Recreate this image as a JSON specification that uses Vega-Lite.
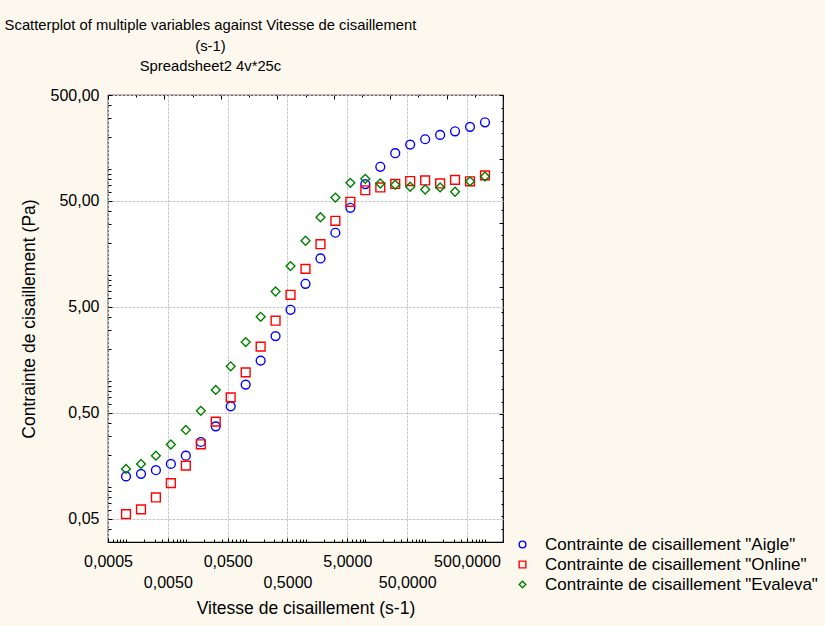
{
  "$schema": "https://vega.github.io/schema/vega-lite/v6.json",
  "width": 395,
  "height": 447,
  "autosize": "none",
  "padding": {"left": 108, "top": 95, "right": 322, "bottom": 84},
  "background": "#fcf8ee",
  "config": {
    "font": "Liberation Sans",
    "view": {"fill": "white", "stroke": "black", "strokeWidth": 1.2}
  },
  "title": {
    "text": ["Scatterplot of multiple variables against Vitesse de cisaillement", "(s-1)"],
    "subtitle": "Spreadsheet2 4v*25c",
    "anchor": "middle",
    "dx": -95,
    "fontSize": 14.8,
    "fontWeight": "normal",
    "color": "black",
    "lineHeight": 21,
    "subtitleFontSize": 14.8,
    "subtitleColor": "black",
    "subtitlePadding": 5,
    "offset": 13
  },
  "data": {
    "values": [
      {"v": 0.001, "Aigle": 0.125, "Online": 0.055, "Evaleva": 0.147},
      {"v": 0.00178, "Aigle": 0.132, "Online": 0.061, "Evaleva": 0.164},
      {"v": 0.00316, "Aigle": 0.143, "Online": 0.079, "Evaleva": 0.196},
      {"v": 0.00562, "Aigle": 0.164, "Online": 0.108, "Evaleva": 0.25},
      {"v": 0.01, "Aigle": 0.196, "Online": 0.158, "Evaleva": 0.343},
      {"v": 0.0178, "Aigle": 0.264, "Online": 0.251, "Evaleva": 0.52},
      {"v": 0.0316, "Aigle": 0.371, "Online": 0.411, "Evaleva": 0.82},
      {"v": 0.0562, "Aigle": 0.573, "Online": 0.697, "Evaleva": 1.37},
      {"v": 0.1, "Aigle": 0.92, "Online": 1.2, "Evaleva": 2.32},
      {"v": 0.178, "Aigle": 1.55, "Online": 2.1, "Evaleva": 4.02},
      {"v": 0.316, "Aigle": 2.64, "Online": 3.69, "Evaleva": 6.97},
      {"v": 0.562, "Aigle": 4.68, "Online": 6.49, "Evaleva": 12.1},
      {"v": 1, "Aigle": 8.24, "Online": 11.4, "Evaleva": 21},
      {"v": 1.78, "Aigle": 14.3, "Online": 19.5, "Evaleva": 35},
      {"v": 3.16, "Aigle": 25, "Online": 32.4, "Evaleva": 53.7},
      {"v": 5.62, "Aigle": 43, "Online": 49, "Evaleva": 74},
      {"v": 10, "Aigle": 72, "Online": 63, "Evaleva": 80.7},
      {"v": 17.8, "Aigle": 105, "Online": 67, "Evaleva": 73},
      {"v": 31.6, "Aigle": 141, "Online": 72.3, "Evaleva": 71},
      {"v": 56.2, "Aigle": 170, "Online": 77, "Evaleva": 68},
      {"v": 100, "Aigle": 191, "Online": 78, "Evaleva": 64},
      {"v": 178, "Aigle": 210, "Online": 73, "Evaleva": 67},
      {"v": 316, "Aigle": 227, "Online": 79, "Evaleva": 61},
      {"v": 562, "Aigle": 250, "Online": 76.5, "Evaleva": 76.5},
      {"v": 1000, "Aigle": 276, "Online": 87, "Evaleva": 85}
    ]
  },
  "resolve": {"scale": {"x": "independent", "y": "independent"}},
  "layer": [
    {
      "transform": [{"fold": ["Aigle", "Online", "Evaleva"], "as": ["serie", "contrainte"]}],
      "mark": {"type": "point", "filled": false, "opacity": 1, "strokeWidth": 1.4, "size": 78, "clip": false},
      "encoding": {
        "x": {
          "field": "v",
          "type": "quantitative",
          "scale": {"type": "log", "domain": [0.0005, 2000], "nice": false},
          "axis": {
            "orient": "bottom",
            "title": "Vitesse de cisaillement (s-1)",
            "titleFontSize": 17.5,
            "titleFontWeight": "normal",
            "titleColor": "black",
            "titlePadding": 8,
            "values": [0.0005, 0.0006, 0.0007, 0.0008, 0.0009,
                       0.001, 0.002, 0.003, 0.004, 0.005, 0.006, 0.007, 0.008, 0.009,
                       0.01, 0.02, 0.03, 0.04, 0.05, 0.06, 0.07, 0.08, 0.09,
                       0.1, 0.2, 0.3, 0.4, 0.5, 0.6, 0.7, 0.8, 0.9,
                       1, 2, 3, 4, 5, 6, 7, 8, 9,
                       10, 20, 30, 40, 50, 60, 70, 80, 90,
                       100, 200, 300, 400, 500, 600, 700, 800, 900,
                       1000, 2000],
            "labelExpr": "abs(log(datum.value / 5) / LN10 - round(log(datum.value / 5) / LN10)) < 0.001 ? replace(format(datum.value, '.4f'), '.', ',') : ''",
            "labelFontSize": 16,
            "labelColor": "black",
            "labelFlush": false,
            "labelOverlap": false,
            "labelPadding": {"condition": {"test": "round(log(datum.value / 0.0005) / LN10) % 2 == 1", "value": 36}, "value": 15},
            "domain": false,
            "tickColor": "black",
            "tickSize": {"condition": {"test": "abs(log(datum.value / 5) / LN10 - round(log(datum.value / 5) / LN10)) < 0.001", "value": -4}, "value": -3},
            "grid": true,
            "gridColor": "#c8c8c8",
            "gridDash": [3, 1],
            "gridOpacity": {"condition": {"test": "abs(log(datum.value / 5) / LN10 - round(log(datum.value / 5) / LN10)) < 0.001", "value": 1}, "value": 0}
          }
        },
        "y": {
          "field": "contrainte",
          "type": "quantitative",
          "scale": {"type": "log", "domain": [0.03, 500], "nice": false},
          "axis": {
            "orient": "left",
            "title": "Contrainte de cisaillement (Pa)",
            "titleFontSize": 17.5,
            "titleFontWeight": "normal",
            "titleColor": "black",
            "titlePadding": 12,
            "values": [0.03, 0.04, 0.05, 0.06, 0.07, 0.08, 0.09,
                       0.1, 0.2, 0.3, 0.4, 0.5, 0.6, 0.7, 0.8, 0.9,
                       1, 2, 3, 4, 5, 6, 7, 8, 9,
                       10, 20, 30, 40, 50, 60, 70, 80, 90,
                       100, 200, 300, 400, 500],
            "labelExpr": "abs(log(datum.value / 5) / LN10 - round(log(datum.value / 5) / LN10)) < 0.001 ? replace(format(datum.value, '.2f'), '.', ',') : ''",
            "labelFontSize": 16,
            "labelColor": "black",
            "labelFlush": false,
            "labelOverlap": false,
            "labelPadding": 13,
            "domain": false,
            "tickColor": "black",
            "tickSize": {"condition": {"test": "abs(log(datum.value / 5) / LN10 - round(log(datum.value / 5) / LN10)) < 0.001", "value": -4}, "value": -3},
            "grid": true,
            "gridColor": "#c8c8c8",
            "gridDash": [3, 1],
            "gridOpacity": {"condition": {"test": "abs(log(datum.value / 5) / LN10 - round(log(datum.value / 5) / LN10)) < 0.001", "value": 1}, "value": 0}
          }
        },
        "color": {
          "field": "serie",
          "type": "nominal",
          "scale": {"domain": ["Aigle", "Online", "Evaleva"], "range": ["#0000ff", "#ff0000", "#008000"]},
          "legend": {
            "orient": "none",
            "legendX": 406,
            "legendY": 441,
            "title": null,
            "padding": 0,
            "labelExpr": "'Contrainte de cisaillement \"' + datum.label + '\"'",
            "labelFontSize": 17,
            "labelColor": "black",
            "labelLimit": 0,
            "labelOffset": 14,
            "rowPadding": 2,
            "symbolSize": 45,
            "symbolStrokeWidth": 1.4,
            "symbolOpacity": 1
          }
        },
        "shape": {
          "field": "serie",
          "type": "nominal",
          "scale": {"domain": ["Aigle", "Online", "Evaleva"], "range": ["circle", "square", "diamond"]}
        }
      }
    },
    {
      "mark": {"type": "point", "opacity": 0},
      "encoding": {
        "x": {
          "datum": 0,
          "type": "quantitative",
          "scale": {"domain": [0, 14], "nice": false, "zero": false},
          "axis": {
            "orient": "top",
            "title": null,
            "labels": false,
            "grid": false,
            "domain": false,
            "values": [0, 1, 2, 3, 4, 5, 6, 7, 8, 9, 10, 11, 12, 13, 14],
            "tickColor": "black",
            "tickSize": {"condition": {"test": "datum.value % 2 == 0", "value": -4}, "value": -2}
          }
        },
        "y": {
          "datum": 0,
          "type": "quantitative",
          "scale": {"domain": [0, 35], "nice": false, "zero": false},
          "axis": {
            "orient": "right",
            "title": null,
            "labels": false,
            "grid": false,
            "domain": false,
            "values": [0, 1, 2, 3, 4, 5, 6, 7, 8, 9, 10, 11, 12, 13, 14, 15, 16, 17, 18, 19, 20, 21, 22, 23, 24, 25, 26, 27, 28, 29, 30, 31, 32, 33, 34, 35],
            "tickColor": "black",
            "tickSize": {"condition": {"test": "datum.value % 5 == 0", "value": -4}, "value": -2}
          }
        }
      }
    }
  ]
}
